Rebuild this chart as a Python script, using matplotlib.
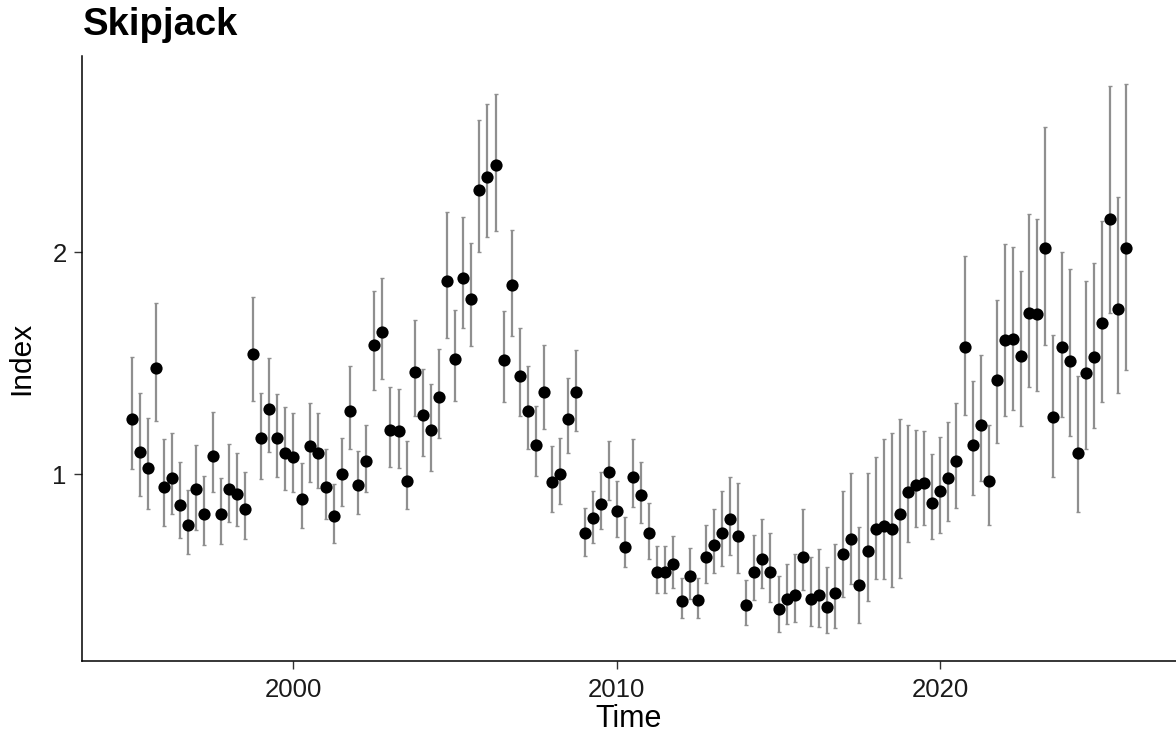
import numpy as np
import matplotlib
matplotlib.use("Agg")
import matplotlib.pyplot as plt

plt.rcParams['font.family'] = ['Liberation Sans', 'DejaVu Sans']

# quarterly time points 1995.00 ... 2025.75
start_year = 1995.0
n_points = 124

index_vals = [
    1.249, 1.102, 1.027, 1.480, 0.943, 0.985, 0.862, 0.773, 0.932, 0.823,
    1.084, 0.823, 0.934, 0.911, 0.844, 1.541, 1.165, 1.294, 1.162, 1.096,
    1.078, 0.890, 1.127, 1.094, 0.943, 0.812, 1.000, 1.285, 0.953, 1.060,
    1.582, 1.642, 1.200, 1.196, 0.971, 1.462, 1.268, 1.198, 1.350, 1.872,
    1.519, 1.883, 1.791, 2.282, 2.338, 2.392, 1.515, 1.854, 1.443, 1.285,
    1.133, 1.371, 0.967, 1.003, 1.249, 1.371, 0.734, 0.802, 0.865, 1.010,
    0.833, 0.674, 0.988, 0.907, 0.736, 0.561, 0.561, 0.597, 0.432, 0.543,
    0.435, 0.627, 0.682, 0.736, 0.797, 0.721, 0.410, 0.560, 0.618, 0.560,
    0.395, 0.438, 0.459, 0.629, 0.437, 0.456, 0.401, 0.464, 0.642, 0.710,
    0.501, 0.656, 0.755, 0.767, 0.752, 0.820, 0.922, 0.953, 0.962, 0.872,
    0.923, 0.985, 1.060, 1.575, 1.131, 1.223, 0.971, 1.423, 1.604, 1.609,
    1.533, 1.728, 1.723, 2.021, 1.259, 1.572, 1.509, 1.096, 1.455, 1.528,
    1.682, 2.150, 1.745, 2.017,
]

upper_vals = [
    1.527, 1.368, 1.252, 1.770, 1.159, 1.187, 1.054, 0.929, 1.132, 0.994,
    1.282, 0.985, 1.136, 1.097, 1.012, 1.800, 1.368, 1.525, 1.362, 1.305,
    1.275, 1.050, 1.323, 1.277, 1.114, 0.956, 1.164, 1.488, 1.105, 1.223,
    1.827, 1.884, 1.393, 1.386, 1.150, 1.696, 1.473, 1.407, 1.566, 2.180,
    1.741, 2.158, 2.042, 2.597, 2.668, 2.710, 1.737, 2.102, 1.658, 1.486,
    1.309, 1.582, 1.127, 1.164, 1.435, 1.560, 0.850, 0.926, 1.012, 1.152,
    0.971, 0.806, 1.159, 1.057, 0.869, 0.677, 0.677, 0.723, 0.534, 0.669,
    0.534, 0.770, 0.842, 0.925, 0.986, 0.959, 0.524, 0.727, 0.797, 0.737,
    0.542, 0.596, 0.640, 0.845, 0.629, 0.662, 0.581, 0.686, 0.926, 1.007,
    0.764, 1.007, 1.077, 1.158, 1.185, 1.248, 1.221, 1.201, 1.195, 1.091,
    1.167, 1.234, 1.323, 1.983, 1.420, 1.537, 1.222, 1.785, 2.039, 2.025,
    1.917, 2.173, 2.151, 2.563, 1.626, 2.003, 1.922, 1.443, 1.872, 1.950,
    2.142, 2.746, 2.250, 2.759,
]

lower_vals = [
    1.024, 0.902, 0.842, 1.240, 0.768, 0.821, 0.712, 0.642, 0.749, 0.682,
    0.922, 0.685, 0.784, 0.768, 0.710, 1.330, 0.979, 1.102, 0.989, 0.929,
    0.919, 0.757, 0.964, 0.937, 0.797, 0.692, 0.857, 1.115, 0.820, 0.920,
    1.380, 1.431, 1.034, 1.030, 0.842, 1.263, 1.084, 1.016, 1.162, 1.615,
    1.332, 1.658, 1.577, 2.003, 2.068, 2.097, 1.324, 1.624, 1.264, 1.114,
    0.992, 1.203, 0.830, 0.868, 1.095, 1.196, 0.632, 0.692, 0.752, 0.884,
    0.719, 0.584, 0.851, 0.779, 0.617, 0.464, 0.464, 0.488, 0.354, 0.438,
    0.354, 0.512, 0.554, 0.587, 0.636, 0.554, 0.321, 0.434, 0.489, 0.426,
    0.291, 0.326, 0.336, 0.479, 0.317, 0.314, 0.284, 0.309, 0.449, 0.506,
    0.332, 0.431, 0.528, 0.528, 0.491, 0.532, 0.696, 0.764, 0.772, 0.707,
    0.738, 0.791, 0.847, 1.266, 0.908, 0.970, 0.772, 1.141, 1.263, 1.290,
    1.219, 1.392, 1.374, 1.582, 0.989, 1.258, 1.174, 0.829, 1.114, 1.209,
    1.326, 1.725, 1.368, 1.468,
]

x_ticks = [2000, 2010, 2020]
y_ticks = [1, 2]
title_text = "Skipjack"
x_label = "Time"
y_label = "Index"

time = start_year + 0.25 * np.arange(n_points)
val = np.array(index_vals)
up = np.array(upper_vals)
lo = np.array(lower_vals)

fig = plt.figure(figsize=(11.76, 7.35), dpi=100)
ax = fig.add_axes([0.0697, 0.1007, 0.9303, 0.8231])

ax.errorbar(time, val, yerr=[val - lo, up - val], fmt='none',
            ecolor='#8f8f8f', elinewidth=1.6, capsize=1.6, capthick=1.0, zorder=1)
ax.plot(time, val, 'o', color='black', markersize=8.8, markeredgewidth=0, zorder=2)

def expand(a, b, f=0.05):
    r = b - a
    return a - f * r, b + f * r

ax.set_xlim(*expand(time.min(), time.max()))
ax.set_ylim(*expand(lo.min(), up.max()))

ax.set_xticks(x_ticks)
ax.set_yticks(y_ticks)
ax.set_xticklabels([str(t) for t in x_ticks])
ax.set_yticklabels([str(t) for t in y_ticks])

for s in ['top', 'right']:
    ax.spines[s].set_visible(False)
for s in ['left', 'bottom']:
    ax.spines[s].set_linewidth(1.1)
    ax.spines[s].set_color('black')
ax.tick_params(axis='both', direction='out', length=5.5, width=1.0,
               color='#333333', labelsize=18.5, labelcolor='#1a1a1a')
ax.tick_params(axis='x', pad=7)
ax.tick_params(axis='y', pad=5.5)

ax.set_xlabel(x_label, fontsize=22, labelpad=1)
ax.set_ylabel(y_label, fontsize=21.5, labelpad=12)
fig.text(0.0706, 1 - 35 / 735, title_text, fontsize=27.5, fontweight='bold',
         ha='left', va='baseline')

fig.savefig("out.png", dpi=100)
